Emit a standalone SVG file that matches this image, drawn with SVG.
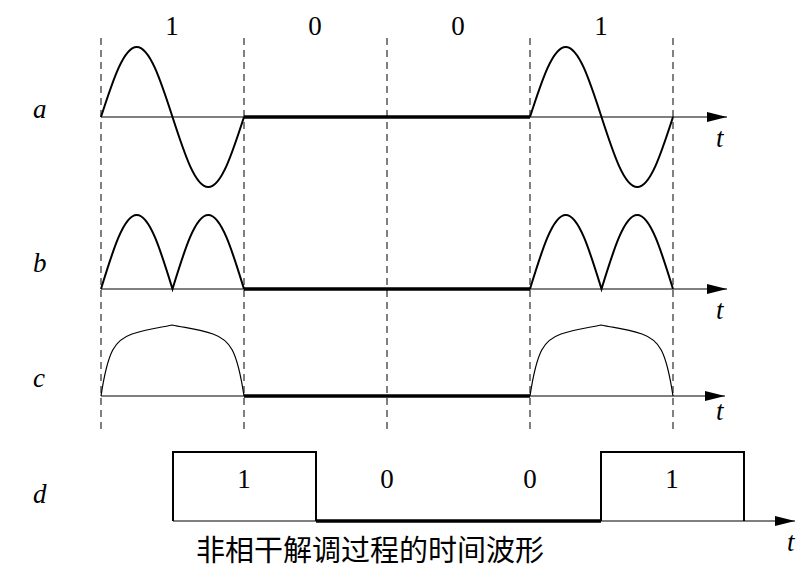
<svg xmlns="http://www.w3.org/2000/svg" width="806" height="577" viewBox="0 0 806 577">
<defs><style>
.dash{stroke:#000;stroke-width:1;stroke-dasharray:7,5;fill:none}
.ax{stroke:#000;stroke-width:1.2;fill:none}
.thick{stroke:#000;stroke-width:3.5;fill:none}
.w{stroke:#000;stroke-width:2;fill:none}
.lbl{font-family:"Liberation Serif",serif;font-style:italic;font-size:27px}
.num{font-family:"Liberation Serif",serif;font-size:27px;text-anchor:middle}
</style>
<marker id="arrb" viewBox="0 0 20 10" refX="20" refY="5" markerWidth="20" markerHeight="10" markerUnits="userSpaceOnUse"><path d="M0,0 L20,5 L0,10z"/></marker>
</defs>
<rect width="806" height="577" fill="#fff"/>
<g id="grid">
<line class="dash" x1="101" y1="38" x2="101" y2="432"/>
<line class="dash" x1="244" y1="38" x2="244" y2="432"/>
<line class="dash" x1="387" y1="38" x2="387" y2="432"/>
<line class="dash" x1="530" y1="38" x2="530" y2="432"/>
<line class="dash" x1="673" y1="38" x2="673" y2="432"/>
</g>
<g id="bits">
<text class="num" x="172" y="35">1</text><text class="num" x="315" y="35">0</text>
<text class="num" x="458" y="35">0</text><text class="num" x="601" y="35">1</text>
</g>
<g id="a">
<text class="lbl" x="33" y="118">a</text>
<line class="ax" x1="101" y1="117" x2="727" y2="117" marker-end="url(#arrb)"/>
<line class="thick" x1="244" y1="117" x2="530" y2="117"/>
<path class="w" d="M101,117 C112.95,80.2 123.76,47 136.75,47 C149.74,47 160.55,80.2 172.5,117 C184.45,153.8 195.26,187 208.25,187 C221.24,187 232.05,153.8 244,117"/>
<path class="w" transform="translate(429,0)" d="M101,117 C112.95,80.2 123.76,47 136.75,47 C149.74,47 160.55,80.2 172.5,117 C184.45,153.8 195.26,187 208.25,187 C221.24,187 232.05,153.8 244,117"/>
<text class="lbl" x="716" y="147">t</text>
</g>
<g id="b">
<text class="lbl" x="33" y="272">b</text>
<line class="ax" x1="101" y1="289" x2="727" y2="289" marker-end="url(#arrb)"/>
<line class="thick" x1="244" y1="289" x2="530" y2="289"/>
<path class="w" d="M101,289 C112.95,250.1 123.76,215 136.75,215 C149.74,215 160.55,250.1 172.5,289 C184.45,250.1 195.26,215 208.25,215 C221.24,215 232.05,250.1 244,289"/>
<path class="w" transform="translate(429,0)" d="M101,289 C112.95,250.1 123.76,215 136.75,215 C149.74,215 160.55,250.1 172.5,289 C184.45,250.1 195.26,215 208.25,215 C221.24,215 232.05,250.1 244,289"/>
<text class="lbl" x="716" y="319">t</text>
</g>
<g id="c">
<text class="lbl" x="33" y="387">c</text>
<line class="ax" x1="101" y1="396" x2="725" y2="396" marker-end="url(#arrb)"/>
<line class="thick" x1="244" y1="396" x2="530" y2="396"/>
<path class="ax" d="M101,396 C108,350 115,340 132,334 C150,328 160,328 172,325 C185,328 195,328 213,334 C230,340 237,350 244,396"/>
<path class="ax" transform="translate(429,0)" d="M101,396 C108,350 115,340 132,334 C150,328 160,328 172,325 C185,328 195,328 213,334 C230,340 237,350 244,396"/>
<text class="lbl" x="716" y="420">t</text>
</g>
<g id="d">
<text class="lbl" x="33" y="503">d</text>
<line class="ax" x1="173" y1="521" x2="795" y2="521" marker-end="url(#arrb)"/>
<polyline class="w" points="173,521 173,452 316,452 316,521"/>
<line class="thick" x1="316" y1="521" x2="601" y2="521"/>
<polyline class="w" points="601,521 601,452 744,452 744,521"/>
<text class="num" x="244" y="488">1</text><text class="num" x="387" y="488">0</text>
<text class="num" x="530" y="488">0</text><text class="num" x="672" y="488">1</text>
<text class="lbl" x="787" y="551">t</text>
</g>
<text x="370" y="561" font-family="'Noto Sans CJK SC',sans-serif" font-size="29" text-anchor="middle">非相干解调过程的时间波形</text>
</svg>
